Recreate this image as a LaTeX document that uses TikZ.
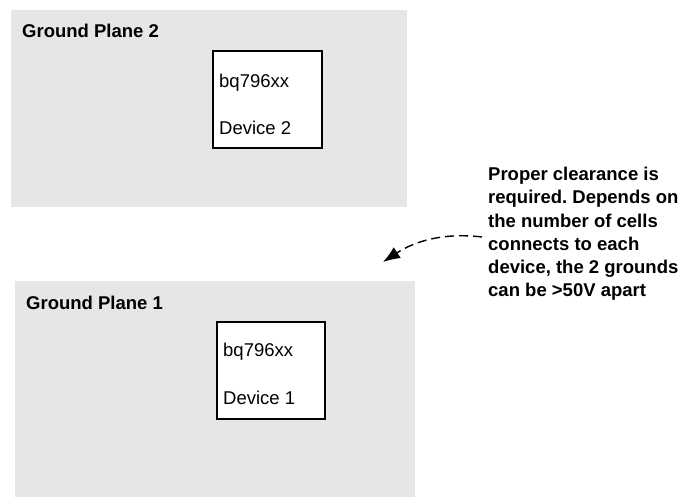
\documentclass[tikz,border=0pt]{standalone}
\usepackage{fontspec}
\setmainfont{Liberation Sans}
\usetikzlibrary{arrows.meta}
\definecolor{planegray}{HTML}{E6E6E6}
\frenchspacing
\tikzset{
  plane/.style={fill=planegray, draw=none, inner sep=0pt, anchor=north west},
  devbox/.style={fill=white, draw=black, line width=2pt, inner sep=0pt, anchor=north west},
  planelbl/.style={anchor=west, inner sep=0pt, font=\fontsize{18.5}{22}\selectfont\bfseries},
  devtxt/.style={anchor=west, inner sep=0pt, font=\fontsize{18.5}{22}\selectfont},
  notetxt/.style={anchor=west, inner sep=0pt, align=left, font=\fontsize{18.5}{23.2}\selectfont\bfseries},
  clearance/.style={dashed, dash pattern=on 9pt off 5pt, line width=1.4pt, -{Latex[length=17pt,width=13pt]}}
}
\begin{document}
\begin{tikzpicture}[x=1pt,y=-1pt]
\useasboundingbox (0,0) rectangle (686,497);
% Ground plane 2
\node[plane, minimum width=396pt, minimum height=197pt] (gp2) at (11,10) {};
\node[planelbl] (gp2lbl) at (22,31) {Ground Plane 2};
\node[devbox, minimum width=109pt, minimum height=97pt] (dev2) at (212,50) {};
\node[devtxt] (dev2a) at (219,83) {bq796xx};
\node[devtxt] (dev2b) at (219,128) {Device 2};
% Ground plane 1
\node[plane, minimum width=400pt, minimum height=216pt] (gp1) at (15,281) {};
\node[planelbl] (gp1lbl) at (26,303) {Ground Plane 1};
\node[devbox, minimum width=108pt, minimum height=97pt] (dev1) at (216,321) {};
\node[devtxt] (dev1a) at (223,352) {bq796xx};
\node[devtxt] (dev1b) at (223,398) {Device 1};
% Note
\node[notetxt] (note) at (488,234) {Proper clearance is\\required. Depends on\\the number of cells\\connects to each\\device, the 2 grounds\\can be >50V apart};
\coordinate (tip) at (383,262);
\draw[clearance] ([xshift=-6pt,yshift=-3pt]note.west) .. controls (440,232) and (412,243) .. (tip);
\end{tikzpicture}
\end{document}
